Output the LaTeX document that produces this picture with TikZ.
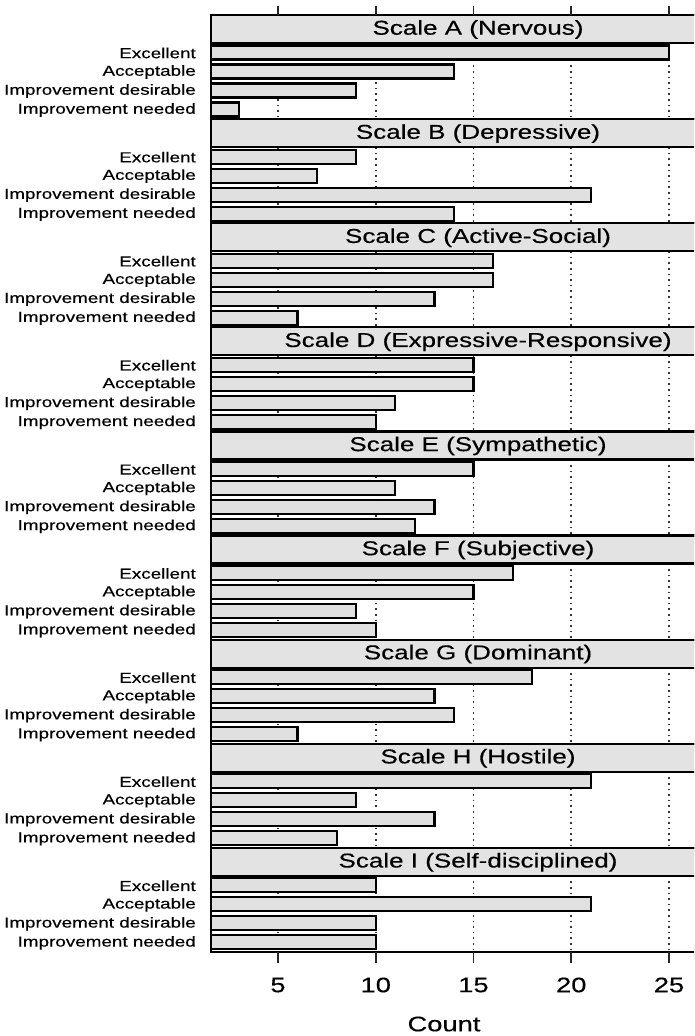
\documentclass[tikz,border=0pt]{standalone}
\usepackage{fontspec}
\newfontfamily\plotfont[FakeStretch=1.3,FakeBold=0.4]{Liberation Sans}

\begin{document}
\begin{tikzpicture}[x=1pt,y=-1pt,
  bar/.style={draw=black,fill=black!12,line width=2.2pt},
  strip/.style={draw=black,fill=black!11,line width=2.2pt},
  frame/.style={draw=black,line width=2.2pt},
  grid/.style={draw=black!80,line width=1.6pt,dash pattern=on 1.6pt off 4pt},
  tick/.style={draw=black!85,line width=1.8pt},
  label/.style={font=\plotfont\fontsize{14.5}{16}\selectfont,anchor=east,inner sep=0pt},
  title/.style={font=\plotfont\fontsize{20}{22}\selectfont,inner sep=0pt},
  axis/.style={font=\plotfont\fontsize{21}{23}\selectfont,inner sep=0pt},
]
\clip (0,0) rectangle (694,1036);
% one panel per scale, counts of the four ratings
\foreach \k/\s/\t/\a/\b/\c/\d in {0/A/Nervous/25/14/9/3,1/B/Depressive/9/7/21/14,
    2/C/Active-Social/16/16/13/6,3/D/Expressive-Responsive/15/15/11/10,
    4/E/Sympathetic/15/11/13/12,5/F/Subjective/17/15/9/10,6/G/Dominant/18/13/14/6,
    7/H/Hostile/21/9/13/8,8/I/Self-disciplined/10/21/10/10}{
  \pgfmathsetmacro{\ptop}{15+104.1*\k}
  \pgfmathsetmacro{\pbot}{\ptop+104.1}
  \pgfmathsetmacro{\sbot}{\ptop+28}
  \foreach \g in {5,10,...,25}{\draw[grid] ({180.25+19.55*\g},\sbot) -- ({180.25+19.55*\g},\pbot);}
  \foreach \v [count=\j from 0] in {\a,\b,\c,\d}{
    \draw[bar] (211,{\sbot+19*\j+2.5}) rectangle ({180.25+19.55*\v},{\sbot+19*\j+16.5});}
  \draw[strip] (211,\ptop) rectangle (745,\sbot);
  \node[title] (title\s) at (478,{\ptop+14.5}) {Scale \s{} (\t)};
  \foreach \lab [count=\j from 0] in {Excellent,Acceptable,Improvement desirable,Improvement needed}{
    \node[label] (lab\s\j) at (196,{\sbot+19*\j+10}) {\lab};}
  \draw[frame] (211,\ptop) rectangle (745,\pbot);
}
% axes
\foreach \g in {5,10,...,25}{
  \draw[tick] ({180.25+19.55*\g},6) -- ({180.25+19.55*\g},15);
  \draw[tick] ({180.25+19.55*\g},952) -- ({180.25+19.55*\g},963);
  \node[axis] (tick\g) at ({180.25+19.55*\g},985) {\g};
}
\node[axis] (count) at (444,1024) {Count};
\end{tikzpicture}
\end{document}
